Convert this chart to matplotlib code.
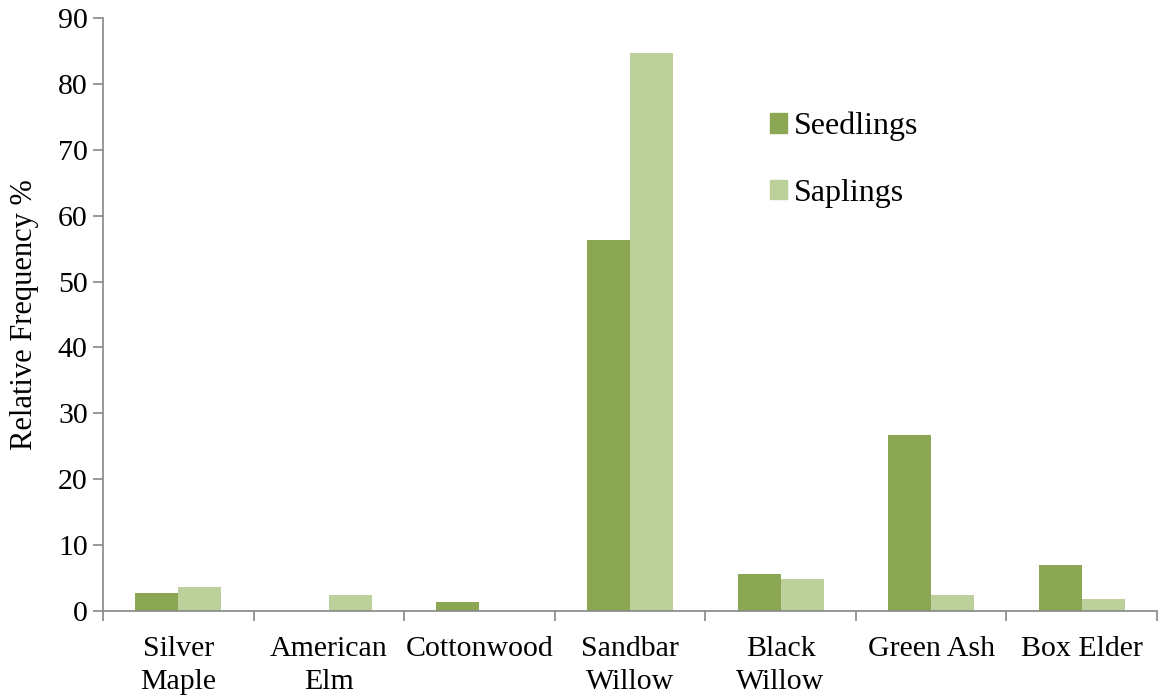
import matplotlib
matplotlib.use("Agg")
import matplotlib.pyplot as plt
import numpy as np
from matplotlib.patches import Patch

species = ["Silver\nMaple", "American\nElm", "Cottonwood", "Sandbar\nWillow",
           "Black\nWillow", "Green Ash", "Box Elder"]
seedlings = [2.8, 0.0, 1.4, 56.3, 5.6, 26.7, 7.0]
saplings = [3.6, 2.4, 0.0, 84.7, 4.9, 2.4, 1.8]
y_ticks = [0, 10, 20, 30, 40, 50, 60, 70, 80, 90]

seed_color = "#8BA753"
sap_color = "#BBD09A"
axis_color = "#868686"

plt.rcParams["font.family"] = ["Liberation Serif", "DejaVu Serif"]

fig = plt.figure(figsize=(11.62, 6.98), dpi=100)
ax = fig.add_axes([103 / 1162, 87 / 698, 1054 / 1162, 593 / 698])

x = np.arange(len(species))
w = 1 / 3.5
ax.bar(x - w / 2, seedlings, width=w, color=seed_color, label="Seedlings")
ax.bar(x + w / 2, saplings, width=w, color=sap_color, label="Saplings")

ax.set_xlim(-0.5, len(species) - 0.5)
ax.set_ylim(0, 90)

# category boundaries get the tick marks, centres get the labels
ax.set_xticks(np.arange(len(species) + 1) - 0.5)
ax.set_xticklabels([])
ax.set_xticks(x, minor=True)
ax.set_xticklabels(species, minor=True, fontsize=21.5, linespacing=1.35)
ax.tick_params(axis="x", which="major", direction="out", length=7,
               color=axis_color, width=1.2)
ax.tick_params(axis="x", which="minor", length=0, pad=18)

ax.set_yticks(y_ticks)
ax.tick_params(axis="y", direction="out", length=7, color=axis_color,
               width=1.2, labelsize=21.5, pad=4)
ax.set_ylabel("Relative Frequency %", fontsize=22)
ax.yaxis.set_label_coords(-0.061, 0.5)

for side in ("top", "right"):
    ax.spines[side].set_visible(False)
for side in ("left", "bottom"):
    ax.spines[side].set_color(axis_color)
    ax.spines[side].set_linewidth(1.2)

handles = [Patch(color=seed_color), Patch(color=sap_color)]
ax.legend(handles, ["Seedlings", "Saplings"], loc="upper left",
          bbox_to_anchor=(741 / 1162, 1 - 83 / 698),
          bbox_transform=fig.transFigure, frameon=False, fontsize=23,
          handlelength=0.55, handleheight=0.55, handletextpad=0.2,
          labelspacing=1.17)

fig.savefig("out.png", dpi=100)
